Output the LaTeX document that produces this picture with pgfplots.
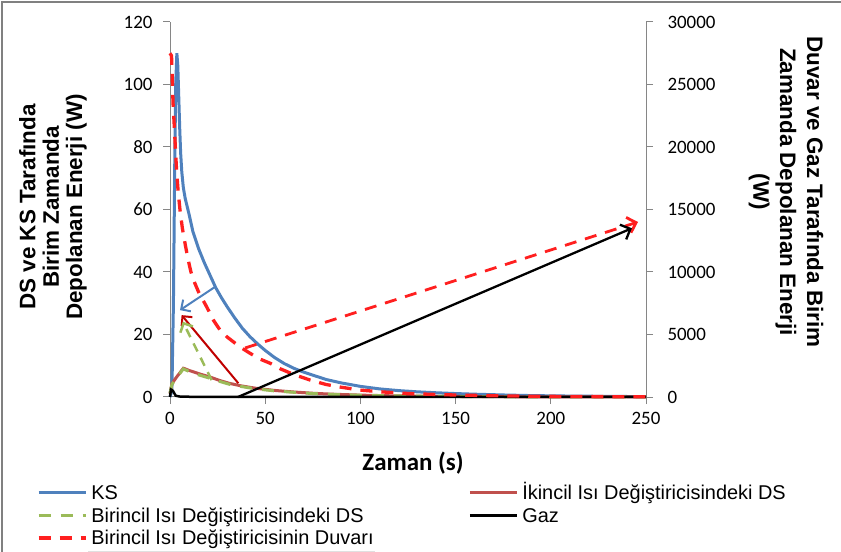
\documentclass[border=0pt]{standalone}
\usepackage{pgfplots}
\pgfplotsset{compat=1.18}
\usepackage{fontspec}
\setmainfont{Liberation Sans}
\newfontfamily\calibri{Carlito}
\usetikzlibrary{arrows.meta}

\definecolor{ksblue}{HTML}{4F81BD}
\definecolor{dsgreen}{HTML}{9BBB59}
\definecolor{dsred}{HTML}{C0504D}
\definecolor{wallred}{HTML}{FF1F1F}
\definecolor{arrowred}{HTML}{C00000}
\definecolor{axisgray}{HTML}{868686}

\pgfplotsset{
  common/.style={
    at={(170bp,155bp)}, anchor=south west, scale only axis,
    width=476bp, height=375bp,
    xmin=0, xmax=250, clip=false,
    axis line style={draw=axisgray, line width=1bp, -},
    tick style={draw=axisgray, line width=1bp},
    tick align=outside, major tick length=7bp,
    tick label style={font=\calibri\fontsize{19}{19}\selectfont},
    /pgf/number format/assume math mode=true,
    /pgf/number format/1000 sep={},
    scaled y ticks=false,
  },
  ksstyle/.style={ksblue, line width=3bp},
  ikstyle/.style={dsred, line width=3bp},
  birstyle/.style={dsgreen, line width=3bp, dash pattern=on 12bp off 10bp},
  wallstyle/.style={wallred, line width=3.3bp, dash pattern=on 12bp off 9bp},
  gazstyle/.style={black, line width=2.5bp},
}

\begin{document}
\begin{tikzpicture}
\path[use as bounding box] (0bp,0bp) rectangle (841bp,552bp);
\draw[gray, line width=1.5bp] (2bp,0bp) -- (2bp,550bp) -- (841bp,550bp);
\draw[black!12, line width=1bp] (88bp,1bp) -- (375bp,1bp);

% left axis: KS and DS series (W)
\begin{axis}[common,
  ymin=0, ymax=120,
  axis y line*=left, axis x line*=bottom,
  xtick={0,50,...,250}, ytick={0,20,...,120},
  yticklabel style={xshift=-7bp},
  xticklabel style={yshift=-5bp},
]
\addplot[ksstyle] coordinates {
(0,0) (1,2) (1.8,30) (2.5,75) (3,100) (3.6,110) (4.1,106) (4.6,96) (5.1,86)
(5.6,78) (6.2,72) (7,67) (8,63.5) (9,61) (10,58.5) (12,53) (15,47.5) (18,43)
(21,39) (24,35) (27,31.8) (30,28.9) (34,25.3) (38,22) (42,19.3) (46,17)
(50,14.9) (55,12.6) (60,10.7) (65,9.2) (70,8) (76,6.8) (82,5.6) (90,4.5)
(100,3.4) (110,2.6) (120,2.05) (130,1.65) (140,1.35) (150,1.1) (160,0.9)
(175,0.65) (190,0.45) (210,0.3) (230,0.2) (250,0.12)};
\addplot[ikstyle] coordinates {
(0,1) (1,4.2) (2,5.1) (3,6) (4,6.8) (5,7.6) (6,8.4) (7,9.2) (8,9.0) (10,8.5)
(13,7.9) (16,7.3) (21,6.4) (26,5.3) (31,4.4) (37,3.6) (45,2.8) (55,2.1)
(65,1.6) (75,1.2) (85,0.9) (100,0.6) (115,0.4) (130,0.27) (150,0.17)
(175,0.09) (200,0.05) (225,0.03) (250,0.02)};
\addplot[birstyle] coordinates {
(0,1.2) (1,4.0) (2,4.9) (3,5.8) (4,6.6) (5,7.4) (6,8.2) (7,9.0) (8,8.7)
(10,8.2) (13,7.5) (16,6.9) (21,6.0) (26,5.0) (31,4.1) (37,3.4) (45,2.6)
(55,1.95) (65,1.5) (75,1.1) (85,0.85) (100,0.55) (115,0.37) (130,0.25)
(150,0.15) (175,0.08) (200,0.05) (225,0.03) (250,0.02)};
\end{axis}

% right axis: wall and gas series (W)
\begin{axis}[common,
  ymin=0, ymax=30000,
  axis y line*=right, axis x line=none,
  ytick={0,5000,...,30000},
  yticklabel style={xshift=11bp},
  legend columns=2,
  legend cell align=left,
  legend style={
    at={(axis description cs:-0.2794,-0.2373)}, anchor=north west,
    draw=none, fill=none, inner sep=0pt, outer sep=0pt,
    row sep=8.5bp, column sep=0pt,
    font=\fontsize{20}{20}\selectfont,
    nodes={inner sep=0pt, text height=14bp, text depth=0pt},
  },
  legend image code/.code={\draw[#1] (0bp,0bp) -- (47bp,0bp); \path (51bp,0bp);},
]
\addplot[gazstyle, forget plot] coordinates {
(0,0) (0.5,600) (1.5,500) (3,100) (5,40) (10,20) (50,10) (100,8) (250,5)};
\addplot[wallstyle, forget plot] coordinates {
(0,27500) (0.8,27300) (1.2,25500) (1.6,23500) (2.2,21800) (2.8,20000)
(3.5,18000) (4.3,16400) (5.3,14900) (6.5,13500) (8,12200) (9.5,11000)
(11,10000) (12.5,9300) (15,8400) (19.3,7200) (23,6100) (26.3,5350) (30,4800)
(36.8,4000) (42,3500) (47,3050) (52.6,2700) (58,2250) (65,1800) (73.7,1350)
(82,1000) (90,780) (100,550) (112,400) (125,280) (140,200) (152.6,150)
(175,90) (200,50) (225,30) (250,20)};

% arrows pointing each curve to its axis
\draw[ksblue, line width=2bp, -{Straight Barb[length=7bp,width=14bp]}]
  (axis cs:23.6,8800) -- (axis cs:5.25,6950);
\draw[arrowred, line width=2bp, -{Straight Barb[length=7bp,width=14bp]}]
  (axis cs:35.9,1100) -- (axis cs:6.1,6550);
\draw[dsgreen, line width=2.5bp, dash pattern=on 9bp off 7bp, -{Straight Barb[length=7bp,width=14bp]}]
  (axis cs:21.9,1350) -- (axis cs:6.7,6025);
\draw[wallred, line width=2.8bp, dash pattern=on 12bp off 9bp, -{Straight Barb[length=8bp,width=16bp]}]
  (axis cs:39.4,3920) -- (axis cs:245.8,14000);
\draw[black, line width=2.3bp, -{Straight Barb[length=8bp,width=16bp]}]
  (axis cs:35.7,0) -- (axis cs:242.6,13500);

\addlegendimage{ksstyle}
\addlegendentry{\makebox[377bp][l]{KS}}
\addlegendimage{ikstyle}
\addlegendentry{İkincil Isı Değiştiricisindeki DS}
\addlegendimage{birstyle}
\addlegendentry{\makebox[377bp][l]{Birincil Isı Değiştiricisindeki DS}}
\addlegendimage{gazstyle}
\addlegendentry{Gaz}
\addlegendimage{wallstyle}
\addlegendentry{\makebox[377bp][l]{Birincil Isı Değiştiricisinin Duvarı}}
\end{axis}

\node[rotate=90, align=center, font=\bfseries\fontsize{22.5}{23.5}\selectfont]
  at (53bp,345bp) {DS ve KS Tarafında\\Birim Zamanda\\Depolanan Enerji (W)};
\node[rotate=-90, align=center, font=\bfseries\fontsize{22.5}{27}\selectfont]
  at (786bp,360bp) {Duvar ve Gaz Tarafında Birim\\Zamanda Depolanan Enerji\\(W)};
\node[font=\calibri\bfseries\fontsize{25}{25}\selectfont] at (413bp,89bp) {Zaman (s)};
\end{tikzpicture}
\end{document}
